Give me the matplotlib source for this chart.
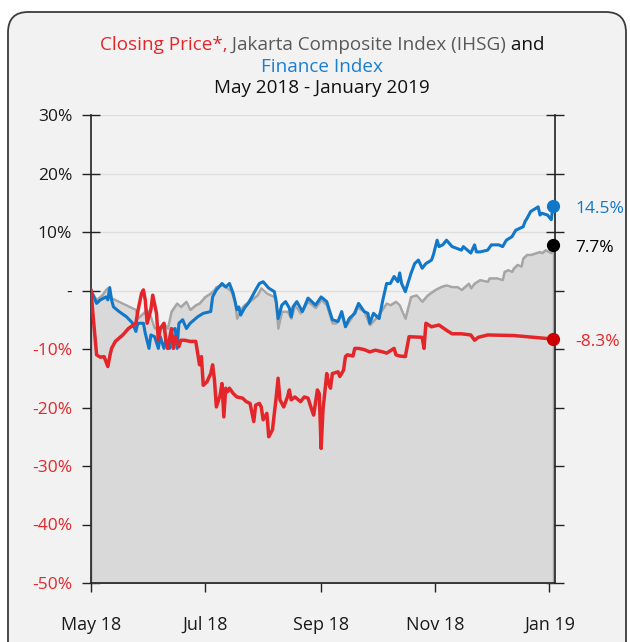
import matplotlib
matplotlib.use("Agg")
import matplotlib.pyplot as plt
from matplotlib.patches import FancyBboxPatch
import pandas as pd

plt.rcParams['font.family'] = ['Open Sans', 'DejaVu Sans']

RED = '#e4262a'
BLUE = '#1177c8'
GRAY = '#a6a6a6'
FILL = '#d9d9d9'

# Finance Index, % change since start
fin_dates = ['2018-05-01', '2018-05-04', '2018-05-06', '2018-05-09', '2018-05-10', '2018-05-11',
             '2018-05-12', '2018-05-13', '2018-05-16', '2018-05-20', '2018-05-23', '2018-05-25',
             '2018-05-26', '2018-05-29', '2018-05-30', '2018-06-01', '2018-06-02', '2018-06-04',
             '2018-06-06', '2018-06-07', '2018-06-09', '2018-06-10', '2018-06-12', '2018-06-13',
             '2018-06-15', '2018-06-16', '2018-06-17', '2018-06-19', '2018-06-21', '2018-06-23',
             '2018-06-27', '2018-06-30', '2018-07-04', '2018-07-05', '2018-07-07', '2018-07-10',
             '2018-07-12', '2018-07-14', '2018-07-16', '2018-07-18', '2018-07-19', '2018-07-20',
             '2018-07-22', '2018-07-24', '2018-07-26', '2018-07-28', '2018-07-30', '2018-08-01',
             '2018-08-04', '2018-08-07', '2018-08-08', '2018-08-09', '2018-08-11', '2018-08-13',
             '2018-08-15', '2018-08-16', '2018-08-17', '2018-08-19', '2018-08-22', '2018-08-25',
             '2018-08-29', '2018-09-01', '2018-09-04', '2018-09-07', '2018-09-10', '2018-09-12',
             '2018-09-14', '2018-09-16', '2018-09-19', '2018-09-21', '2018-09-24', '2018-09-26',
             '2018-09-27', '2018-09-29', '2018-10-02', '2018-10-04', '2018-10-06', '2018-10-08',
             '2018-10-10', '2018-10-12', '2018-10-13', '2018-10-14', '2018-10-16', '2018-10-19',
             '2018-10-21', '2018-10-23', '2018-10-25', '2018-10-27', '2018-10-30', '2018-10-31',
             '2018-11-02', '2018-11-03', '2018-11-05', '2018-11-07', '2018-11-10', '2018-11-15',
             '2018-11-16', '2018-11-20', '2018-11-22', '2018-11-23', '2018-11-25', '2018-11-29',
             '2018-12-01', '2018-12-05', '2018-12-07', '2018-12-09', '2018-12-12', '2018-12-14',
             '2018-12-18', '2018-12-19', '2018-12-20', '2018-12-22', '2018-12-25', '2018-12-26',
             '2018-12-27', '2018-12-28', '2018-12-31', '2019-01-02', '2019-01-03']
fin_vals = [0.0, -2.2, -1.6, -1.1, -1.6, 0.5,
            -1.6, -2.8, -3.6, -4.5, -5.5, -7.0,
            -5.6, -5.6, -7.3, -9.9, -7.6, -7.9,
            -9.9, -7.9, -9.9, -8.5, -9.9, -6.8,
            -6.5, -9.9, -5.6, -5.0, -6.5, -5.6,
            -4.5, -3.9, -3.6, -1.1, 0.1, 1.2,
            0.6, 1.2, -0.5, -3.3, -2.8, -4.2,
            -3.0, -2.2, -1.1, 0.1, 1.2, 1.5,
            0.4, -0.2, -1.9, -4.8, -2.5, -1.9,
            -3.0, -4.5, -2.8, -1.9, -3.6, -1.3,
            -2.5, -1.1, -1.9, -5.0, -5.3, -3.6,
            -6.2, -4.8, -3.9, -2.2, -3.6, -3.9,
            -5.6, -3.9, -4.8, -1.6, 1.2, 1.2,
            2.4, 1.5, 3.0, 1.2, -0.2, 2.9,
            4.6, 5.2, 3.8, 4.6, 5.2, 6.1,
            8.6, 7.5, 7.8, 8.6, 7.5, 6.9,
            7.5, 6.4, 7.8, 6.6, 6.6, 6.9,
            7.8, 7.8, 7.5, 8.6, 9.2, 10.3,
            10.9, 11.8, 12.3, 13.5, 14.1, 14.3,
            12.9, 13.2, 12.9, 12.1, 14.5]

# Closing price of the stock, % change since start
price_dates = ['2018-05-01', '2018-05-02', '2018-05-04', '2018-05-06', '2018-05-08', '2018-05-10',
               '2018-05-11', '2018-05-12', '2018-05-14', '2018-05-18', '2018-05-21', '2018-05-25',
               '2018-05-26', '2018-05-28', '2018-05-29', '2018-05-30', '2018-05-31', '2018-06-02',
               '2018-06-03', '2018-06-05', '2018-06-06', '2018-06-07', '2018-06-09', '2018-06-10',
               '2018-06-11', '2018-06-13', '2018-06-14', '2018-06-15', '2018-06-17', '2018-06-18',
               '2018-06-20', '2018-06-23', '2018-06-26', '2018-06-27', '2018-06-28', '2018-06-29',
               '2018-06-30', '2018-07-02', '2018-07-04', '2018-07-05', '2018-07-06', '2018-07-07',
               '2018-07-09', '2018-07-10', '2018-07-11', '2018-07-12', '2018-07-13', '2018-07-14',
               '2018-07-16', '2018-07-18', '2018-07-21', '2018-07-23', '2018-07-25', '2018-07-27',
               '2018-07-28', '2018-07-30', '2018-07-31', '2018-08-01', '2018-08-03', '2018-08-04',
               '2018-08-06', '2018-08-07', '2018-08-08', '2018-08-09', '2018-08-10', '2018-08-12',
               '2018-08-14', '2018-08-15', '2018-08-16', '2018-08-18', '2018-08-21', '2018-08-23',
               '2018-08-25', '2018-08-27', '2018-08-28', '2018-08-30', '2018-08-31', '2018-09-01',
               '2018-09-02', '2018-09-04', '2018-09-05', '2018-09-06', '2018-09-07', '2018-09-10',
               '2018-09-11', '2018-09-13', '2018-09-14', '2018-09-15', '2018-09-18', '2018-09-19',
               '2018-09-21', '2018-09-24', '2018-09-27', '2018-09-30', '2018-10-04', '2018-10-06',
               '2018-10-10', '2018-10-11', '2018-10-13', '2018-10-16', '2018-10-18', '2018-10-25',
               '2018-10-26', '2018-10-27', '2018-10-30', '2018-11-03', '2018-11-07', '2018-11-10',
               '2018-11-15', '2018-11-20', '2018-11-22', '2018-11-24', '2018-11-29', '2018-12-13',
               '2019-01-03']
price_vals = [0.0, -3.9, -11.0, -11.4, -11.3, -13.0,
              -11.3, -9.9, -8.7, -7.6, -6.5, -5.6,
              -3.6, -0.5, 0.1, -1.6, -5.6, -3.3,
              -0.8, -3.9, -8.5, -6.5, -5.6, -8.5,
              -9.9, -6.5, -9.9, -7.9, -9.6, -8.5,
              -8.5, -8.7, -8.7, -10.7, -12.7, -11.3,
              -16.2, -15.6, -14.2, -12.7, -15.3, -19.9,
              -17.9, -15.9, -21.6, -16.7, -17.3, -16.7,
              -17.6, -18.2, -18.4, -19.0, -19.3, -22.4,
              -19.6, -19.3, -19.9, -22.1, -21.0, -25.0,
              -23.8, -21.0, -18.2, -15.0, -18.7, -19.9,
              -18.2, -17.0, -18.7, -18.2, -19.0, -18.2,
              -18.4, -20.4, -21.3, -17.0, -17.6, -27.0,
              -20.4, -14.2, -15.9, -16.7, -14.2, -13.9,
              -14.7, -13.6, -11.3, -11.0, -11.2, -9.9,
              -9.9, -10.1, -10.5, -10.2, -10.5, -10.7,
              -9.9, -11.0, -11.2, -11.3, -7.9, -8.0,
              -9.9, -5.6, -6.2, -5.9, -6.8, -7.4,
              -7.4, -7.6, -8.5, -8.0, -7.6, -7.7,
              -8.3]

# Jakarta Composite Index (IHSG), % change since start
jci_dates = ['2018-05-01', '2018-05-04', '2018-05-07', '2018-05-09', '2018-05-10', '2018-05-12',
             '2018-05-25', '2018-05-26', '2018-05-29', '2018-05-31', '2018-06-02', '2018-06-04',
             '2018-06-06', '2018-06-08', '2018-06-09', '2018-06-11', '2018-06-13', '2018-06-16',
             '2018-06-18', '2018-06-21', '2018-06-23', '2018-06-26', '2018-06-28', '2018-07-01',
             '2018-07-04', '2018-07-06', '2018-07-07', '2018-07-10', '2018-07-13', '2018-07-15',
             '2018-07-17', '2018-07-18', '2018-07-20', '2018-07-22', '2018-07-26', '2018-07-29',
             '2018-07-31', '2018-08-03', '2018-08-07', '2018-08-08', '2018-08-09', '2018-08-11',
             '2018-08-14', '2018-08-16', '2018-08-18', '2018-08-21', '2018-08-25', '2018-08-29',
             '2018-09-01', '2018-09-04', '2018-09-07', '2018-09-09', '2018-09-12', '2018-09-14',
             '2018-09-17', '2018-09-20', '2018-09-24', '2018-09-27', '2018-10-01', '2018-10-03',
             '2018-10-06', '2018-10-08', '2018-10-11', '2018-10-13', '2018-10-14', '2018-10-16',
             '2018-10-19', '2018-10-22', '2018-10-25', '2018-10-28', '2018-11-01', '2018-11-04',
             '2018-11-07', '2018-11-10', '2018-11-13', '2018-11-15', '2018-11-19', '2018-11-20',
             '2018-11-22', '2018-11-25', '2018-11-29', '2018-11-30', '2018-12-04', '2018-12-07',
             '2018-12-08', '2018-12-10', '2018-12-12', '2018-12-13', '2018-12-15', '2018-12-17',
             '2018-12-18', '2018-12-20', '2018-12-22', '2018-12-25', '2018-12-27', '2018-12-28',
             '2018-12-30', '2019-01-02', '2019-01-03']
jci_vals = [0.0, -1.6, -0.8, 0.1, 0.4, -1.3,
            -3.3, -4.8, -3.9, -3.3, -4.5, -6.5,
            -6.2, -6.5, -5.6, -6.5, -3.6, -2.2,
            -2.8, -1.9, -3.3, -2.5, -2.2, -1.1,
            -0.5, 0.1, 0.6, 0.9, 0.4, -0.2,
            -1.9, -4.8, -3.3, -2.5, -1.6, -0.8,
            0.4, -0.5, -1.1, -2.2, -6.5, -3.6,
            -3.6, -4.8, -2.5, -3.9, -1.9, -3.0,
            -1.6, -2.5, -5.6, -5.6, -4.2, -6.2,
            -4.8, -2.8, -3.6, -5.9, -4.5, -3.6,
            -2.2, -2.5, -1.9, -2.5, -3.3, -4.8,
            -1.1, -0.8, -1.9, -0.8, 0.1, 0.6,
            0.9, 0.6, 0.6, 0.1, 1.2, 0.4,
            1.2, 1.8, 1.5, 2.1, 2.1, 1.8,
            3.2, 3.5, 3.2, 3.8, 4.4, 4.1,
            5.5, 6.1, 6.1, 6.4, 6.6, 6.4,
            6.9, 6.4, 7.7]

y_ticks = [30, 20, 10, 0, -10, -20, -30, -40, -50]
y_labels = ['30%', '20%', '10%', '-', '-10%', '-20%', '-30%', '-40%', '-50%']
x_ticks = ['2018-05-01', '2018-07-01', '2018-09-01', '2018-11-01', '2019-01-01']
x_labels = ['May 18', 'Jul 18', 'Sep 18', 'Nov 18', 'Jan 19']

fin_x = pd.to_datetime(fin_dates)
price_x = pd.to_datetime(price_dates)
jci_x = pd.to_datetime(jci_dates)

W, H = 630, 642
fig = plt.figure(figsize=(W / 100, H / 100), dpi=100)
fig.patch.set_facecolor('white')

# rounded card behind everything
card = FancyBboxPatch((8 / W, -0.05), 618 / W, 630 / H + 0.05,
                      boxstyle="round,pad=0,rounding_size=0.032",
                      transform=fig.transFigure, fc='#f2f2f2', ec='#3c3c3c', lw=1.3, zorder=-10)
fig.patches.append(card)

ax = fig.add_axes([91 / W, 1 - 583 / H, 464 / W, 468 / H])
ax.set_facecolor('none')

ax.fill_between(jci_x, jci_vals, -50, facecolor=FILL, edgecolor=GRAY, lw=1.2, zorder=1)
ax.plot(jci_x, jci_vals, color=GRAY, lw=1.5, zorder=2)
ax.plot(fin_x, fin_vals, color=BLUE, lw=2.2, zorder=3)
ax.plot(price_x, price_vals, color=RED, lw=2.5, zorder=4)

# end markers and labels
ends = [(fin_x[-1], fin_vals[-1], BLUE, '#1177c8'),
        (jci_x[-1], jci_vals[-1], 'black', 'black'),
        (price_x[-1], price_vals[-1], '#cc0000', RED)]
for x, v, mc, tc in ends:
    ax.plot([x], [v], 'o', ms=8.5, color=mc, clip_on=False, zorder=6)
    ax.annotate(f'{v:.1f}%', (x, v), xytext=(22, -3), textcoords='offset pixels',
                color=tc, fontsize=12.5, va='center', ha='left', annotation_clip=False)

ax.set_ylim(-50, 30)
ax.set_xlim(pd.Timestamp('2018-05-01'), pd.Timestamp('2019-01-04'))
ax.set_yticks(y_ticks)
ax.set_yticklabels(y_labels)
for lab, val in zip(ax.get_yticklabels(), y_ticks):
    lab.set_color(RED if val < 0 else '#1a1a1a')
ax.set_xticks(pd.to_datetime(x_ticks))
ax.set_xticklabels(x_labels, color='#1a1a1a')

ax.yaxis.grid(True, color='#dedede', lw=1)
ax.set_axisbelow(True)
ax.tick_params(axis='both', direction='inout', length=13, width=1, color='#222222')
ax.tick_params(axis='y', right=True, pad=7, labelsize=12.5)
ax.tick_params(axis='x', pad=17, labelsize=13)
for s in ['left', 'bottom', 'right', 'top']:
    ax.spines[s].set_color('#222222')
    ax.spines[s].set_linewidth(1.2)
ax.spines['top'].set_visible(False)

# title with coloured parts
renderer = fig.canvas.get_renderer()


def colored_line(parts, y_px, size):
    texts = []
    for s, c in parts:
        t = fig.text(0, 1 - y_px / H, s, color=c, fontsize=size, ha='left', va='center')
        texts.append(t)
    widths = [t.get_window_extent(renderer).width for t in texts]
    x = 322 - sum(widths) / 2
    for t, w in zip(texts, widths):
        t.set_x(x / W)
        x += w


colored_line([('Closing Price*,', RED), (' Jakarta Composite Index (IHSG)', '#595959'),
              (' and', '#111111')], 45, 13.6)
colored_line([('Finance Index', '#1a7fd0')], 66.5, 13.6)
colored_line([('May 2018 - January 2019', '#111111')], 88, 13.6)

fig.savefig('out.png', dpi=100, facecolor=fig.get_facecolor())
